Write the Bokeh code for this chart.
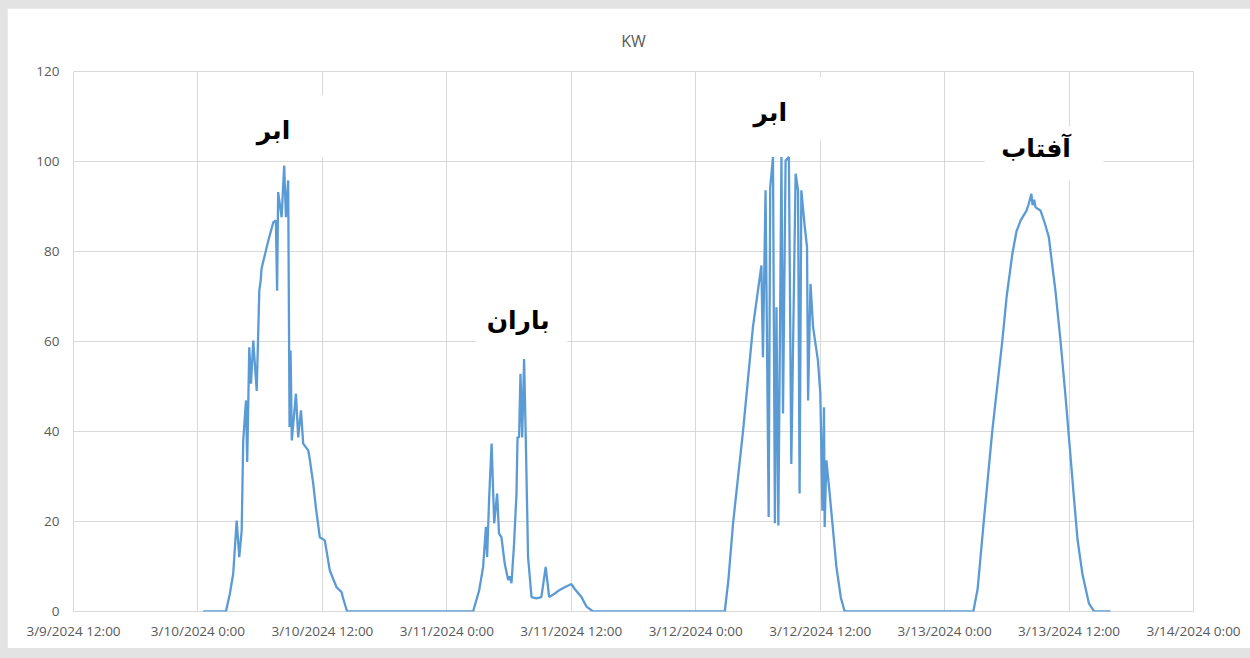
import pandas as pd
from bokeh.plotting import figure
from bokeh.models import FixedTicker, Label, BoxAnnotation, Range1d
from bokeh.embed import file_html
from bokeh.resources import INLINE

# ---------------- data ----------------
day1_date = "2024-03-10"
day1_time = ["00:30", "02:42", "03:05", "03:24", "03:44", "03:59", "04:13", "04:22", "04:38", "04:45",
             "04:57", "05:07", "05:20", "05:40", "05:49", "05:55", "06:03", "06:08", "06:47", "07:16",
             "07:31", "07:38", "07:44", "08:04", "08:19", "08:29", "08:42", "08:50", "08:56", "09:03",
             "09:27", "09:40", "09:56", "10:09", "10:38", "10:48", "11:07", "11:22", "11:45", "12:14",
             "12:43", "13:22", "13:51", "14:00", "14:23"]
day1_kw = [0, 0, 4, 8.4, 20.2, 12.1, 18, 38, 46.9, 33.2,
           58.7, 50.6, 60.2, 49, 62.4, 71.3, 73.6, 76.2, 82.4, 86.5,
           86.9, 71.3, 93.2, 87.6, 99.1, 87.6, 95.8, 41, 58, 38,
           48.4, 38.7, 44.7, 37.3, 35.8, 33.6, 28.4, 23.2, 16.5, 15.8,
           9.1, 5.4, 4.3, 2.9, 0]

day2_date = "2024-03-11"
day2_time = ["02:32", "03:07", "03:30", "03:46", "03:53", "04:05", "04:19", "04:34", "04:51", "05:02",
             "05:16", "05:35", "05:55", "06:04", "06:14", "06:28", "06:43", "06:49", "06:58", "07:06",
             "07:16", "07:27", "07:37", "07:50", "08:10", "08:38", "09:07", "09:32", "09:52", "10:25",
             "10:53", "11:22", "12:01", "12:20", "12:59", "13:28", "14:06"]
day2_kw = [0, 4.7, 9.9, 18.8, 12.1, 25.4, 37.3, 19.6, 26.2, 17.3,
           16.5, 10.6, 7, 7.8, 6.3, 14.4, 26.2, 38.7, 38.7, 52.8,
           38.7, 56.1, 38, 12.1, 3.2, 2.9, 3.2, 9.9, 3.2, 4,
           4.8, 5.4, 6.1, 5, 3.2, 1.1, 0]

day3_date = "2024-03-12"
day3_time = ["02:48", "03:09", "03:36", "04:34", "05:31", "06:20", "06:29", "06:44", "07:02", "07:11",
             "07:27", "07:38", "07:47", "07:58", "08:16", "08:25", "08:40", "08:59", "09:13", "09:38",
             "09:52", "10:01", "10:11", "10:31", "10:44", "10:50", "11:04", "11:19", "11:47", "12:01",
             "12:13", "12:22", "12:26", "12:36", "12:55", "13:34", "14:00", "14:22"]
day3_kw = [0, 7, 19.6, 40.2, 63.2, 76.9, 56.5, 93.6, 21, 94.3,
           101, 19.6, 67.6, 19.1, 101, 44, 100.2, 101, 32.8, 97.3,
           93.6, 26.2, 93.6, 85.4, 81, 46.9, 72.8, 63.2, 55.8, 48.4,
           22.4, 45.4, 18.8, 33.6, 26.2, 9.9, 3, 0]

day4_date = "2024-03-13"
day4_time = ["02:46", "03:11", "03:47", "04:36", "05:34", "05:59", "06:32", "06:56", "07:20", "07:54",
             "08:06", "08:22", "08:29", "08:38", "08:46", "09:15", "09:38", "10:03", "10:13", "10:42",
             "11:11", "11:40", "12:03", "12:28", "12:49", "13:17", "13:55", "14:25", "16:00"]
day4_kw = [0, 5, 20.2, 40.2, 60.2, 70, 79.5, 84.5, 86.9, 89.1,
           90.5, 92.8, 90.3, 91.5, 89.8, 89.1, 86.5, 83.2, 80, 71,
           60, 47.6, 37, 25.4, 16, 8.4, 1.8, 0, 0]

tick_times = ["2024-03-09 12:00", "2024-03-10 00:00", "2024-03-10 12:00", "2024-03-11 00:00",
              "2024-03-11 12:00", "2024-03-12 00:00", "2024-03-12 12:00", "2024-03-13 00:00",
              "2024-03-13 12:00", "2024-03-14 00:00"]
tick_labels = ["3/9/2024 12:00", "3/10/2024 0:00", "3/10/2024 12:00", "3/11/2024 0:00",
               "3/11/2024 12:00", "3/12/2024 0:00", "3/12/2024 12:00", "3/13/2024 0:00",
               "3/13/2024 12:00", "3/14/2024 0:00"]
y_ticks = [0, 20, 40, 60, 80, 100, 120]

chart_title = "KW"

# annotation texts (Persian): cloud, rain, cloud, sun
note_texts = ["ابر", "باران", "ابر", "آفتاب"]
note_times = ["2024-03-10 07:17", "2024-03-11 06:53", "2024-03-12 07:11", "2024-03-13 08:49"]
note_kw = [107.0, 64.7, 110.9, 102.8]
# white boxes behind the notes: (left time, right time, bottom kw, top kw)
note_boxes = [("2024-03-10 02:22", "2024-03-10 12:23", 100.9, 114.7),
              ("2024-03-11 02:50", "2024-03-11 11:37", 59.1, 70.2),
              ("2024-03-12 02:33", "2024-03-12 12:35", 104.7, 118.7),
              ("2024-03-13 03:54", "2024-03-13 15:18", 95.8, 107.8)]

# ---------------- build ----------------
xs, ys = [], []
for d, tl, vl in [(day1_date, day1_time, day1_kw), (day2_date, day2_time, day2_kw),
                  (day3_date, day3_time, day3_kw), (day4_date, day4_time, day4_kw)]:
    xs += [pd.Timestamp(f"{d} {t}") for t in tl]
    ys += vl


def ms(s):
    return int(pd.Timestamp(s).value // 10**6)


GRID = "#d9d9d9"
TXT = "#595959"

x0, x1 = ms(tick_times[0]), ms(tick_times[-1])
p = figure(width=1243, height=640, x_axis_type="datetime", output_backend="svg",
           toolbar_location=None, title=chart_title,
           x_range=Range1d(x0, x1),
           y_range=Range1d(0, 120),
           min_border_left=66, min_border_right=57, min_border_top=63, min_border_bottom=37)

p.background_fill_color = "white"
p.border_fill_color = "white"
p.outline_line_color = GRID

p.title.align = "center"
p.title.text_font = "Open Sans"
p.title.text_font_size = "16px"
p.title.text_font_style = "normal"
p.title.text_color = TXT
p.title.standoff = 39

tick_ms = [ms(t) for t in tick_times]
p.xaxis.ticker = FixedTicker(ticks=tick_ms)
p.xgrid.ticker = FixedTicker(ticks=tick_ms)
p.xaxis.major_label_overrides = {t: l for t, l in zip(tick_ms, tick_labels)}
p.yaxis.ticker = FixedTicker(ticks=y_ticks)
p.ygrid.ticker = FixedTicker(ticks=y_ticks)

for ax in (p.xaxis[0], p.yaxis[0]):
    ax.axis_line_color = None
    ax.major_tick_line_color = None
    ax.minor_tick_line_color = None
    ax.major_tick_out = 0
    ax.major_tick_in = 0
    ax.major_label_text_font = "Open Sans"
    ax.major_label_text_font_size = "13.5px"
    ax.major_label_text_color = TXT
p.xaxis.major_label_standoff = 10
p.yaxis.major_label_standoff = 14

p.xgrid.grid_line_color = GRID
p.ygrid.grid_line_color = GRID
p.xgrid.grid_line_width = 1
p.ygrid.grid_line_width = 1

p.line(xs, ys, line_color="#5B9BD5", line_width=2.3)

for (l, r, b, t) in note_boxes:
    p.add_layout(BoxAnnotation(left=ms(l), right=ms(r), bottom=b, top=t,
                               fill_color="white", fill_alpha=1.0, line_color=None))

for txt, tm, kv in zip(note_texts, note_times, note_kw):
    p.add_layout(Label(x=ms(tm), y=kv, text=txt, text_align="center", text_baseline="middle",
                       text_font="DejaVu Sans", text_font_style="bold", text_font_size="25px",
                       text_color="black"))

html = file_html(p, INLINE, title="KW")
page_css = ("<style>html, body { background-color: #e3e3e3 !important; }"
            " body { padding: 8px 0 0 7px !important; margin: 0 !important; }</style>")
html = html.replace("</head>", page_css + "</head>", 1)
open("out.html", "w").write(html)
